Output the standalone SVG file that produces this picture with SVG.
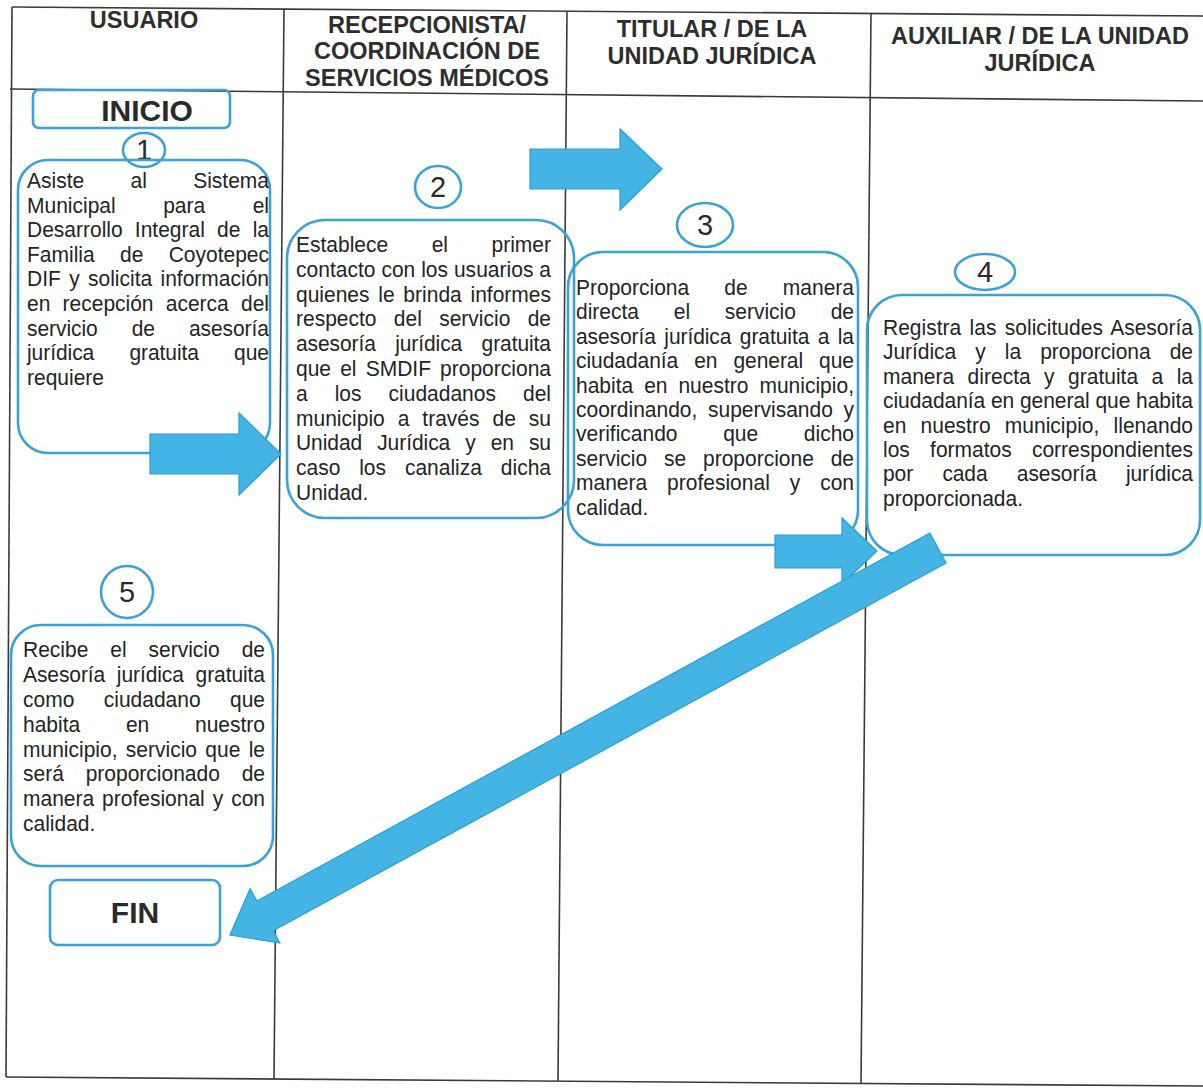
<svg xmlns="http://www.w3.org/2000/svg" width="1203" height="1091" viewBox="0 0 1203 1091">
<style>
.grid{stroke:#3a3a3a;stroke-width:1.6;fill:none}
.h{font-family:"Liberation Sans",Arial,sans-serif;font-weight:bold;font-size:23.5px;fill:#2e2e2e;text-anchor:middle}
.box{fill:none;stroke:#3aa2d8;stroke-width:2.6}
.t{font-family:"Liberation Sans",Arial,sans-serif;font-size:21px;fill:#242424}
.term{font-family:"Liberation Sans",Arial,sans-serif;font-weight:bold;font-size:30px;fill:#2a2a2a;text-anchor:middle}
.num{font-family:"Liberation Sans",Arial,sans-serif;font-size:29px;fill:#2a2a2a;text-anchor:middle}
.arrow{fill:#43b4e4;stroke:#2b9fd5;stroke-width:1.2}
</style>
<rect width="1203" height="1091" fill="#ffffff"/>
<g id="table">
<line class="grid" x1="12" y1="7" x2="1203" y2="16"/>
<line class="grid" x1="10" y1="89" x2="1203" y2="101"/>
<line class="grid" x1="6" y1="1077" x2="1203" y2="1086"/>
<line class="grid" x1="12" y1="7" x2="6" y2="1077"/>
<line class="grid" x1="284" y1="9" x2="274" y2="1079"/>
<line class="grid" x1="567" y1="11" x2="558" y2="1081"/>
<line class="grid" x1="871" y1="13" x2="861" y2="1084"/>
<text class="h" x="144" y="28">USUARIO</text>
<text class="h" x="427" y="33">RECEPCIONISTA/</text>
<text class="h" x="427" y="59">COORDINACIÓN DE</text>
<text class="h" x="427" y="86">SERVICIOS MÉDICOS</text>
<text class="h" x="712" y="37">TITULAR / DE LA</text>
<text class="h" x="712" y="64">UNIDAD JURÍDICA</text>
<text class="h" x="1040" y="44">AUXILIAR / DE LA UNIDAD</text>
<text class="h" x="1040" y="71">JURÍDICA</text>
</g>
<g id="inicio">
<rect class="box" x="33" y="90" width="197" height="38" rx="6"/>
<text class="term" x="147" y="121">INICIO</text>
</g>
<g id="paso1">
<ellipse class="box" cx="144" cy="150" rx="21" ry="17"/>
<text class="num" x="144" y="160">1</text>
<rect class="box" x="18" y="160" width="252" height="293" rx="30"/>
<text class="t" x="27" y="188" transform="matrix(1,0,0,1.07,0,-13.16)" textLength="242" lengthAdjust="spacing" style="word-spacing:40.5px">Asiste al Sistema</text>
<text class="t" x="27" y="212.6" transform="matrix(1,0,0,1.07,0,-14.88)" textLength="242" lengthAdjust="spacing" style="word-spacing:41.6px">Municipal para el</text>
<text class="t" x="27" y="237.2" transform="matrix(1,0,0,1.07,0,-16.6)" textLength="242" lengthAdjust="spacing" style="word-spacing:6.4px">Desarrollo Integral de la</text>
<text class="t" x="27" y="261.8" transform="matrix(1,0,0,1.07,0,-18.33)" textLength="242" lengthAdjust="spacing" style="word-spacing:19.5px">Familia de Coyotepec</text>
<text class="t" x="27" y="286.4" transform="matrix(1,0,0,1.07,0,-20.05)" textLength="242" lengthAdjust="spacing" style="word-spacing:2.5px">DIF y solicita información</text>
<text class="t" x="27" y="311" transform="matrix(1,0,0,1.07,0,-21.77)" textLength="242" lengthAdjust="spacing" style="word-spacing:6.4px">en recepción acerca del</text>
<text class="t" x="27" y="335.6" transform="matrix(1,0,0,1.07,0,-23.49)" textLength="242" lengthAdjust="spacing" style="word-spacing:28.2px">servicio de asesoría</text>
<text class="t" x="27" y="360.2" transform="matrix(1,0,0,1.07,0,-25.21)" textLength="242" lengthAdjust="spacing" style="word-spacing:29.4px">jurídica gratuita que</text>
<text class="t" x="27" y="384.8" transform="matrix(1,0,0,1.07,0,-26.94)">requiere</text>
</g>
<g id="paso2">
<ellipse class="box" cx="438" cy="187" rx="23" ry="21"/>
<text class="num" x="438" y="197">2</text>
<rect class="box" x="287" y="220" width="287" height="298" rx="38"/>
<text class="t" x="296" y="252" transform="matrix(1,0,0,1.07,0,-17.64)" textLength="255" lengthAdjust="spacing" style="word-spacing:37.6px">Establece el primer</text>
<text class="t" x="296" y="276.8" transform="matrix(1,0,0,1.07,0,-19.38)" textLength="255" lengthAdjust="spacing">contacto con los usuarios a</text>
<text class="t" x="296" y="301.6" transform="matrix(1,0,0,1.07,0,-21.11)" textLength="255" lengthAdjust="spacing" style="word-spacing:2.9px">quienes le brinda informes</text>
<text class="t" x="296" y="326.4" transform="matrix(1,0,0,1.07,0,-22.85)" textLength="255" lengthAdjust="spacing" style="word-spacing:11.5px">respecto del servicio de</text>
<text class="t" x="296" y="351.2" transform="matrix(1,0,0,1.07,0,-24.58)" textLength="255" lengthAdjust="spacing" style="word-spacing:13.7px">asesoría jurídica gratuita</text>
<text class="t" x="296" y="376" transform="matrix(1,0,0,1.07,0,-26.32)" textLength="255" lengthAdjust="spacing" style="word-spacing:3.3px">que el SMDIF proporciona</text>
<text class="t" x="296" y="400.8" transform="matrix(1,0,0,1.07,0,-28.06)" textLength="255" lengthAdjust="spacing" style="word-spacing:21.2px">a los ciudadanos del</text>
<text class="t" x="296" y="425.6" transform="matrix(1,0,0,1.07,0,-29.79)" textLength="255" lengthAdjust="spacing" style="word-spacing:7.1px">municipio a través de su</text>
<text class="t" x="296" y="450.4" transform="matrix(1,0,0,1.07,0,-31.53)" textLength="255" lengthAdjust="spacing" style="word-spacing:9.2px">Unidad Jurídica y en su</text>
<text class="t" x="296" y="475.2" transform="matrix(1,0,0,1.07,0,-33.26)" textLength="255" lengthAdjust="spacing" style="word-spacing:13px">caso los canaliza dicha</text>
<text class="t" x="296" y="500" transform="matrix(1,0,0,1.07,0,-35)">Unidad.</text>
</g>
<g id="paso3">
<ellipse class="box" cx="705" cy="225" rx="28" ry="22"/>
<text class="num" x="705" y="235">3</text>
<rect class="box" x="568" y="252" width="290" height="293" rx="35"/>
<text class="t" x="576" y="295" transform="matrix(1,0,0,1.07,0,-20.65)" textLength="278" lengthAdjust="spacing" style="word-spacing:29.3px">Proporciona de manera</text>
<text class="t" x="576" y="319.4" transform="matrix(1,0,0,1.07,0,-22.36)" textLength="278" lengthAdjust="spacing" style="word-spacing:28.9px">directa el servicio de</text>
<text class="t" x="576" y="343.8" transform="matrix(1,0,0,1.07,0,-24.07)" textLength="278" lengthAdjust="spacing" style="word-spacing:2.7px">asesoría jurídica gratuita a la</text>
<text class="t" x="576" y="368.2" transform="matrix(1,0,0,1.07,0,-25.77)" textLength="278" lengthAdjust="spacing" style="word-spacing:10.2px">ciudadanía en general que</text>
<text class="t" x="576" y="392.6" transform="matrix(1,0,0,1.07,0,-27.48)" textLength="278" lengthAdjust="spacing" style="word-spacing:5.1px">habita en nuestro municipio,</text>
<text class="t" x="576" y="417" transform="matrix(1,0,0,1.07,0,-29.19)" textLength="278" lengthAdjust="spacing" style="word-spacing:4.8px">coordinando, supervisando y</text>
<text class="t" x="576" y="441.4" transform="matrix(1,0,0,1.07,0,-30.9)" textLength="278" lengthAdjust="spacing" style="word-spacing:39.8px">verificando que dicho</text>
<text class="t" x="576" y="465.8" transform="matrix(1,0,0,1.07,0,-32.61)" textLength="278" lengthAdjust="spacing" style="word-spacing:11px">servicio se proporcione de</text>
<text class="t" x="576" y="490.2" transform="matrix(1,0,0,1.07,0,-34.31)" textLength="278" lengthAdjust="spacing" style="word-spacing:14.1px">manera profesional y con</text>
<text class="t" x="576" y="514.6" transform="matrix(1,0,0,1.07,0,-36.02)">calidad.</text>
</g>
<g id="paso4">
<ellipse class="box" cx="985" cy="272" rx="30" ry="18"/>
<text class="num" x="985" y="282">4</text>
<rect class="box" x="867" y="295" width="333" height="260" rx="35"/>
<text class="t" x="883" y="335" transform="matrix(1,0,0,1.07,0,-23.45)" textLength="310" lengthAdjust="spacing" style="word-spacing:2.6px">Registra las solicitudes Asesoría</text>
<text class="t" x="883" y="359.4" transform="matrix(1,0,0,1.07,0,-25.16)" textLength="310" lengthAdjust="spacing" style="word-spacing:13.3px">Jurídica y la proporciona de</text>
<text class="t" x="883" y="383.8" transform="matrix(1,0,0,1.07,0,-26.87)" textLength="310" lengthAdjust="spacing" style="word-spacing:7.6px">manera directa y gratuita a la</text>
<text class="t" x="883" y="408.2" transform="matrix(1,0,0,1.07,0,-28.57)" textLength="310" lengthAdjust="spacing">ciudadanía en general que habita</text>
<text class="t" x="883" y="432.6" transform="matrix(1,0,0,1.07,0,-30.28)" textLength="310" lengthAdjust="spacing" style="word-spacing:8.4px">en nuestro municipio, llenando</text>
<text class="t" x="883" y="457" transform="matrix(1,0,0,1.07,0,-31.99)" textLength="310" lengthAdjust="spacing" style="word-spacing:14.4px">los formatos correspondientes</text>
<text class="t" x="883" y="481.4" transform="matrix(1,0,0,1.07,0,-33.7)" textLength="310" lengthAdjust="spacing" style="word-spacing:23.6px">por cada asesoría jurídica</text>
<text class="t" x="883" y="505.8" transform="matrix(1,0,0,1.07,0,-35.41)">proporcionada.</text>
</g>
<g id="paso5">
<ellipse class="box" cx="127" cy="592" rx="26" ry="26"/>
<text class="num" x="127" y="602">5</text>
<rect class="box" x="11" y="625" width="262" height="241" rx="30"/>
<text class="t" x="23" y="657" transform="matrix(1,0,0,1.07,0,-45.99)" textLength="242" lengthAdjust="spacing" style="word-spacing:16.1px">Recibe el servicio de</text>
<text class="t" x="23" y="681.9" transform="matrix(1,0,0,1.07,0,-47.73)" textLength="242" lengthAdjust="spacing" style="word-spacing:6px">Asesoría jurídica gratuita</text>
<text class="t" x="23" y="706.8" transform="matrix(1,0,0,1.07,0,-49.48)" textLength="242" lengthAdjust="spacing" style="word-spacing:23.6px">como ciudadano que</text>
<text class="t" x="23" y="731.7" transform="matrix(1,0,0,1.07,0,-51.22)" textLength="242" lengthAdjust="spacing" style="word-spacing:39.9px">habita en nuestro</text>
<text class="t" x="23" y="756.6" transform="matrix(1,0,0,1.07,0,-52.96)" textLength="242" lengthAdjust="spacing" style="word-spacing:2.5px">municipio, servicio que le</text>
<text class="t" x="23" y="781.5" transform="matrix(1,0,0,1.07,0,-54.71)" textLength="242" lengthAdjust="spacing" style="word-spacing:16px">será proporcionado de</text>
<text class="t" x="23" y="806.4" transform="matrix(1,0,0,1.07,0,-56.45)" textLength="242" lengthAdjust="spacing" style="word-spacing:2.1px">manera profesional y con</text>
<text class="t" x="23" y="831.3" transform="matrix(1,0,0,1.07,0,-58.19)">calidad.</text>
</g>
<g id="fin">
<rect class="box" x="50" y="880" width="170" height="65" rx="8"/>
<text class="term" x="135" y="923">FIN</text>
</g>
<g id="connectors">
<polygon class="arrow" points="150,434 239,434 239,413 281,454 239,495 239,474 150,474"/>
<polygon class="arrow" points="530,149 620,149 620,129 662,169 620,210 620,189 530,189"/>
<polygon class="arrow" points="775,535 842,535 842,518 877,551 842,584 842,568 775,568"/>
<polygon class="arrow" transform="translate(938,548) rotate(151.34)" points="0,-17 767,-17 767,-31 807,0 767,31 767,17 0,17"/>
</g>
</svg>
